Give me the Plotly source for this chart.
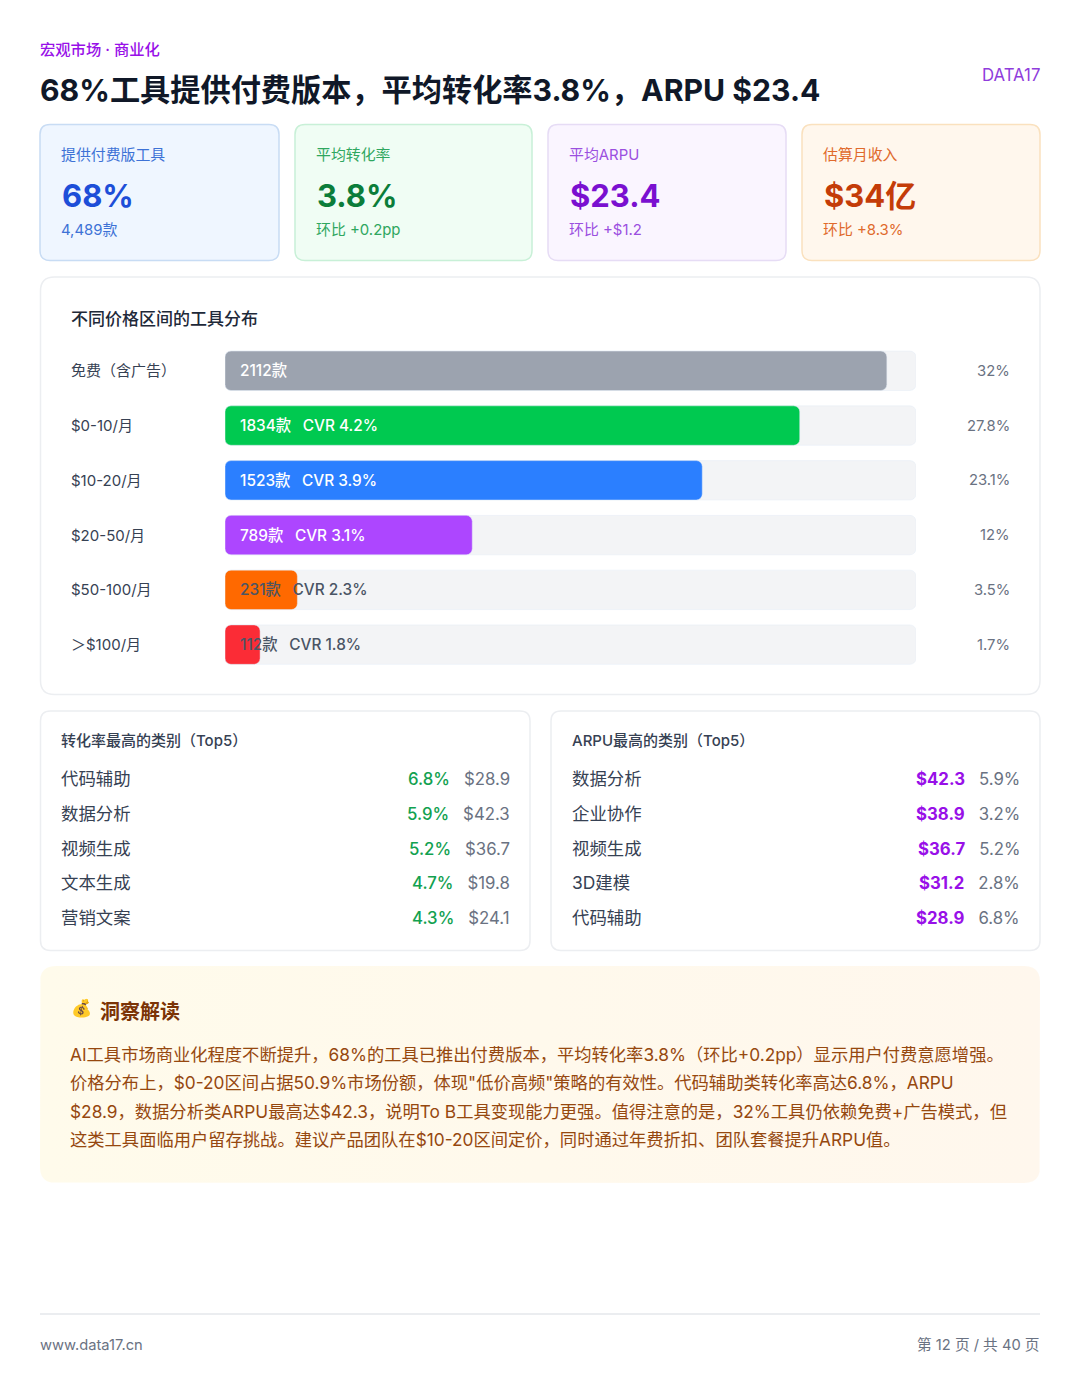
import plotly.graph_objects as go

# page data
eyebrow = "宏观市场 · 商业化"
headline = "68%工具提供付费版本，平均转化率3.8%，ARPU $23.4"
brand = "DATA17"
footer_left = "www.data17.cn"
footer_right = "第 12 页 / 共 40 页"

card_labels = ["提供付费版工具", "平均转化率", "平均ARPU", "估算月收入"]
card_values = ["68%", "3.8%", "$23.4", "$34亿"]
card_subs = ["4,489款", "环比 +0.2pp", "环比 +$1.2", "环比 +8.3%"]

chart_title = "不同价格区间的工具分布"
price_bands = ["免费（含广告）", "$0-10/月", "$10-20/月", "$20-50/月", "$50-100/月", "＞$100/月"]
tool_counts = [2112, 1834, 1523, 789, 231, 112]
band_cvr = [None, 4.2, 3.9, 3.1, 2.3, 1.8]
band_share = ["32%", "27.8%", "23.1%", "12%", "3.5%", "1.7%"]
track_max = 2205

cvr_title = "转化率最高的类别（Top5）"
cvr_names = ["代码辅助", "数据分析", "视频生成", "文本生成", "营销文案"]
cvr_rates = ["6.8%", "5.9%", "5.2%", "4.7%", "4.3%"]
cvr_arpu = ["$28.9", "$42.3", "$36.7", "$19.8", "$24.1"]

arpu_title = "ARPU最高的类别（Top5）"
arpu_names = ["数据分析", "企业协作", "视频生成", "3D建模", "代码辅助"]
arpu_values = ["$42.3", "$38.9", "$36.7", "$31.2", "$28.9"]
arpu_rates = ["5.9%", "3.2%", "5.2%", "2.8%", "6.8%"]

insight_title = "洞察解读"
insight_lines = [
    "AI工具市场商业化程度不断提升，68%的工具已推出付费版本，平均转化率3.8%（环比+0.2pp）显示用户付费意愿增强。",
    "价格分布上，$0-20区间占据50.9%市场份额，体现\"低价高频\"策略的有效性。代码辅助类转化率高达6.8%，ARPU",
    "$28.9，数据分析类ARPU最高达$42.3，说明To B工具变现能力更强。值得注意的是，32%工具仍依赖免费+广告模式，但",
    "这类工具面临用户留存挑战。建议产品团队在$10-20区间定价，同时通过年费折扣、团队套餐提升ARPU值。",
]

# styles
W, H = 1080, 1394
FONT = "Inter, 'Noto Sans CJK SC', sans-serif"
bar_colors = ["#9ca3af", "#00c950", "#2b7fff", "#ad46ff", "#ff6900", "#fb2c36"]
card_x = [(40, 279), (295, 532), (548, 786), (802, 1040)]
card_styles = [
    ("#eff6ff", "#c8dcf4", "#3d72d6", "#1d4ed8"),
    ("#f0fdf4", "#c8f0d7", "#2fa75f", "#0b7d3a"),
    ("#faf5ff", "#e6dcf5", "#9b4fdf", "#7a10d0"),
    ("#fff7ed", "#fae1be", "#e06a2c", "#c43c08"),
]


def rounded(x0, y0, x1, y1, r):
    return (f"M{x0+r},{y0} L{x1-r},{y0} Q{x1},{y0} {x1},{y0+r} L{x1},{y1-r} Q{x1},{y1} {x1-r},{y1} "
            f"L{x0+r},{y1} Q{x0},{y1} {x0},{y1-r} L{x0},{y0+r} Q{x0},{y0} {x0+r},{y0} Z")


def box(x0, y0, x1, y1, r, fill, line, width=1.5):
    return dict(type="path", xref="x", yref="y", path=rounded(x0, y0, x1, y1, r), fillcolor=fill,
                line=dict(color=line, width=width), layer="below")


def corner_outline(x0, y0, x1, y1, r):
    # polygon of a rounded box, a filled trace can carry a gradient and a shape can not
    steps = [i / 6 for i in range(7)]
    xs, ys = [], []
    for cx, cy, sx, sy, flip in [(x1 - r, y0 + r, 1, -1, False), (x1 - r, y1 - r, 1, 1, True),
                                 (x0 + r, y1 - r, -1, 1, False), (x0 + r, y0 + r, -1, -1, True)]:
        for t in steps:
            t = 1 - t if flip else t
            xs.append(cx + sx * r * (1 - (1 - t) ** 2))
            ys.append(cy + sy * r * (1 - t ** 2))
    return xs + xs[:1], ys + ys[:1]


def label(x, y, text, size, color, anchor="left", weight=400):
    return dict(x=x, y=y, xref="x", yref="y", text=text, showarrow=False, xanchor=anchor, yanchor="middle",
                borderpad=0, borderwidth=0, font=dict(size=size, color=color, family=FONT, weight=weight))


shapes = []
notes = []

# header
notes.append(label(40, 49, eyebrow, 15.3, "#9810e8", weight=500))
notes.append(label(40, 90, headline, 30.2, "#101828", weight=700))
notes.append(label(1040, 75, brand, 16.8, "#8f3ddc", anchor="right"))

# kpi cards
for i, (x0, x1) in enumerate(card_x):
    bg, border, soft, strong = card_styles[i]
    shapes.append(box(x0, 124.5, x1, 260.5, 10, bg, border))
    notes.append(label(x0 + 21, 154.5, card_labels[i], 14.9, soft))
    notes.append(label(x0 + 21.5, 195.5, card_values[i], 31, strong, weight=700))
    notes.append(label(x0 + 21, 229.5, card_subs[i], 14.9, soft))

# bar panel
shapes.append(box(40.5, 277, 1040, 694.5, 14, "#ffffff", "#eceef1"))
notes.append(label(71, 319, chart_title, 17, "#1e2939", weight=500))
for i, band in enumerate(price_bands):
    notes.append(dict(label(71, band, band, 15, "#364153"), yref="y2"))
    notes.append(dict(label(1009.5, band, band_share[i], 14.8, "#6a7282", anchor="right"), yref="y2"))
    caption = f"{tool_counts[i]}款" if band_cvr[i] is None else f"{tool_counts[i]}款\u2002\u2005CVR {band_cvr[i]}%"
    inside = "#ffffff" if tool_counts[i] > 500 else "#4a5565"
    notes.append(dict(label(0, band, caption, 15.4, inside, weight=500), xref="x2", yref="y2", xshift=15))

# top5 tables
row_y = [778.5, 813.5, 848.5, 882.5, 917.5]
for x0, x1, title, names, first, second, color, weight in [
    (40.5, 530, cvr_title, cvr_names, cvr_rates, cvr_arpu, "#12a150", 500),
    (551, 1040, arpu_title, arpu_names, arpu_values, arpu_rates, "#9810e8", 700),
]:
    shapes.append(box(x0, 711, x1, 950.5, 10, "#ffffff", "#eceef1"))
    notes.append(label(x0 + 20.5, 740.5, title, 15, "#364153", weight=500))
    for y, name, a, b in zip(row_y, names, first, second):
        notes.append(label(x0 + 20.5, y, name, 17.4, "#364153"))
        text = f'<span style="color:{color};font-weight:{weight}">{a}</span>\u2002\u2004{b}'
        notes.append(label(x1 - 20.5, y, text, 16.8, "#6a7282", anchor="right"))

# insight box
box_x, box_y = corner_outline(40, 966, 1040, 1183, 16)
notes.append(label(71, 1008, "💰", 17, "#7b3306"))
notes.append(label(100, 1012, insight_title, 20, "#7b3306", weight=700))
for y, line in zip([1054.5, 1082.5, 1111.5, 1139.5], insight_lines):
    notes.append(label(70, y, line, 17.3, "#96480f"))

# footer
shapes.append(dict(type="line", xref="x", yref="y", x0=40, x1=1040, y0=1314, y1=1314,
                   line=dict(color="#e5e7eb", width=1.5), layer="below"))
notes.append(label(40, 1344.5, footer_left, 14.7, "#6a7282"))
notes.append(label(1040, 1344.5, footer_right, 14.7, "#6a7282", anchor="right"))

# page axes come first so the panels sit under the bars
zero_base = [0] * len(price_bands)
data = [
    go.Scatter(x=box_x, y=box_y, mode="lines", line=dict(width=0), fill="toself",
               fillgradient=dict(type="horizontal", colorscale=[[0, "#fffbeb"], [1, "#fff7ed"]]),
               xaxis="x", yaxis="y", showlegend=False, hoverinfo="skip"),
    go.Bar(y=price_bands, x=[track_max] * len(price_bands), base=zero_base, orientation="h", width=0.72,
           marker=dict(color="#f3f4f6", cornerradius=6), xaxis="x2", yaxis="y2", showlegend=False, hoverinfo="skip"),
    go.Bar(y=price_bands, x=tool_counts, base=zero_base, orientation="h", width=0.72,
           marker=dict(color=bar_colors, cornerradius=6), xaxis="x2", yaxis="y2", showlegend=False),
]

layout = dict(
    width=W,
    height=H,
    margin=dict(l=0, r=0, t=0, b=0),
    paper_bgcolor="#ffffff",
    plot_bgcolor="rgba(0,0,0,0)",
    font=dict(family=FONT),
    barmode="overlay",
    xaxis=dict(range=[0, W], domain=[0, 1], visible=False, fixedrange=True),
    yaxis=dict(range=[H, 0], domain=[0, 1], visible=False, fixedrange=True),
    xaxis2=dict(range=[0, track_max], domain=[225 / W, 916 / W], anchor="y2", visible=False, fixedrange=True),
    yaxis2=dict(range=[5.5, -0.5], domain=[1 - 672 / H, 1 - 343.4 / H], anchor="x2", visible=False,
                type="category", categoryorder="array", categoryarray=price_bands, fixedrange=True),
    shapes=shapes,
    annotations=notes,
)

fig = go.Figure(data, layout)
fig.write_html("out.html", config=dict(displayModeBar=False),
               post_script="document.body.style.margin='0';")
